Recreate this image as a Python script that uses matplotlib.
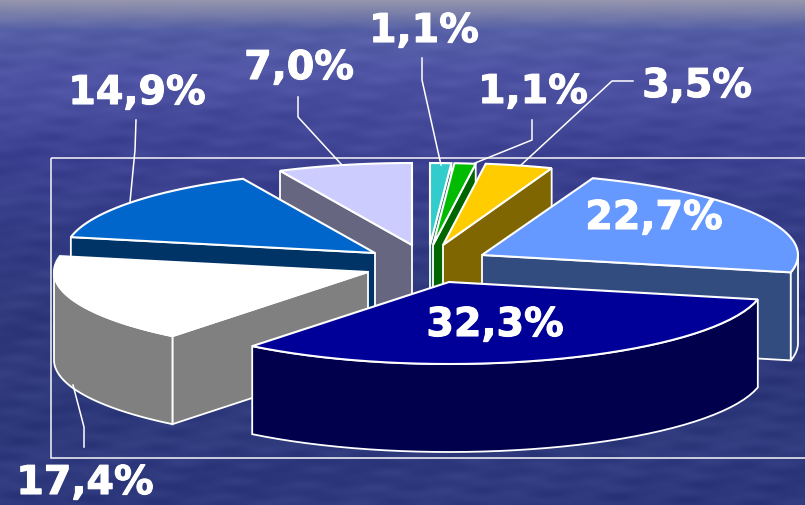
import numpy as np
import matplotlib
matplotlib.use("Agg")
import matplotlib.pyplot as plt
import matplotlib.patheffects as pe
from matplotlib.patches import Polygon, Rectangle

# data, clockwise from 12 o'clock
values = [1.1, 1.1, 3.5, 22.7, 32.3, 17.4, 14.9, 7.0]
labels = ["1,1%", "1,1%", "3,5%", "22,7%", "32,3%", "17,4%", "14,9%", "7,0%"]

top_colors = ["#33CCCC", "#00BB00", "#FFCC00", "#6699FF", "#000099", "#FFFFFF", "#0066CC", "#CCCCFF"]
side_colors = ["#1A6666", "#006600", "#806600", "#334C80", "#00004C", "#808080", "#003366", "#666680"]

# each slice is pulled out of the pie, so each gets its own centre (pixels)
centers = [(430, 245), (433, 245), (443, 245), (482, 255), (449, 282), (368, 272), (375, 253), (412, 245)]
radii_x = [310, 310, 310, 316, 316, 314, 310, 310]
RY = 82
DEPTH = 88
draw_order = [7, 0, 1, 2, 3, 6, 5, 4]

label_pos = [(424, 31), (533, 92), (697, 86), (654, 218), (495, 325), (85, 483), (137, 93), (299, 68)]
leaders = [
    [(422, 58), (422, 80), (441, 165)],
    [(532, 120), (532, 140), (475, 163)],
    [(633, 81), (612, 81), (520, 166)],
    [(84, 447), (84, 427), (73, 385)],
    [(136, 120), (135, 150), (130, 202)],
    [(298, 97), (298, 117), (342, 165)],
]

# background, top to bottom
bg_y = [0, 12, 30, 70, 160, 300, 505]
bg_r = [150, 125, 85, 80, 60, 48, 46]
bg_g = [150, 130, 95, 85, 65, 58, 58]
bg_b = [175, 170, 165, 165, 145, 125, 125]


def point(cx, cy, rx, theta):
    return cx + rx * np.sin(theta), cy - RY * np.cos(theta)


fig = plt.figure(figsize=(8.05, 5.05), dpi=100)
ax = fig.add_axes([0, 0, 1, 1])

yy, xx = np.mgrid[0:505, 0:805]
base = np.dstack([np.interp(yy, bg_y, bg_r), np.interp(yy, bg_y, bg_g), np.interp(yy, bg_y, bg_b)])
ripple = (np.sin(yy * 0.23 + xx * 0.031) * np.sin(xx * 0.053 - yy * 0.12)
          + np.sin(yy * 0.41 - xx * 0.017) * np.sin(xx * 0.089 + yy * 0.07) * 0.7
          + np.sin(yy * 0.07 + xx * 0.011) * 0.5)
fade = np.clip(yy / 40, 0, 1)
bg = base + (ripple * 4 * fade)[..., None]
ax.imshow(np.clip(bg, 0, 255).astype(np.uint8), extent=(0, 805, 505, 0), aspect="auto",
          interpolation="bilinear", zorder=0)

ax.add_patch(Rectangle((51, 158), 800, 300, fill=False, edgecolor="#E8E8F0", lw=1.2, zorder=1))

cum = np.cumsum([0] + values) / sum(values) * 2 * np.pi
z = 2
for i in draw_order:
    cx, cy = centers[i]
    rx = radii_x[i]
    t1, t2 = cum[i], cum[i + 1]

    # cut faces that look towards the viewer
    for t, visible in ((t1, np.sin(t1) < 0), (t2, np.sin(t2) > 0)):
        if visible:
            px, py = point(cx, cy, rx, t)
            face = [(cx, cy), (px, py), (px, py + DEPTH), (cx, cy + DEPTH)]
            ax.add_patch(Polygon(face, closed=True, facecolor=side_colors[i], edgecolor="white", lw=1.3, zorder=z))
            z += 1

    # outer wall, only the part on the front half
    a = max(t1, np.pi / 2)
    b = min(t2, 3 * np.pi / 2)
    if a < b:
        th = np.linspace(a, b, 40)
        px, py = point(cx, cy, rx, th)
        wall = np.vstack([np.column_stack([px, py]), np.column_stack([px, py + DEPTH])[::-1]])
        ax.add_patch(Polygon(wall, closed=True, facecolor=side_colors[i], edgecolor="white", lw=1.3, zorder=z))
        z += 1

    th = np.linspace(t1, t2, 40)
    px, py = point(cx, cy, rx, th)
    top = np.vstack([[cx, cy], np.column_stack([px, py])])
    ax.add_patch(Polygon(top, closed=True, facecolor=top_colors[i], edgecolor="white", lw=1.5, zorder=z))
    z += 1

for line in leaders:
    lx, ly = zip(*line)
    ax.plot(lx, ly, color="white", lw=1.1, zorder=z)

for label, (x, y) in zip(labels, label_pos):
    ax.text(x, y, label, color="white", fontsize=28.5, fontweight="bold", family="DejaVu Sans",
            ha="center", va="center", zorder=z + 1,
            path_effects=[pe.withStroke(linewidth=0.8, foreground="white")])

ax.set_xlim(0, 805)
ax.set_ylim(505, 0)
ax.axis("off")
fig.savefig("out.png", dpi=100)
